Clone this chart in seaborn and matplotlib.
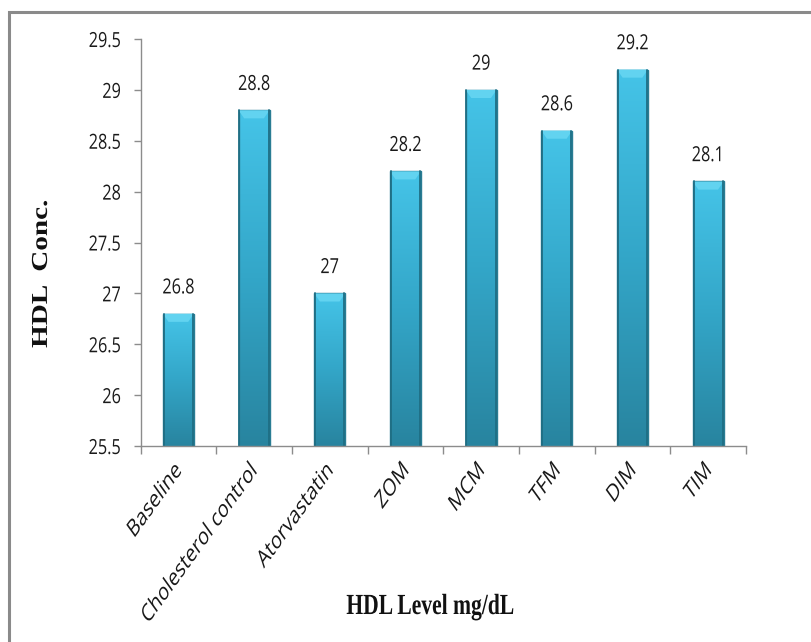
import numpy as np
import pandas as pd
import matplotlib
matplotlib.use("Agg")
import matplotlib.pyplot as plt
from matplotlib.colors import LinearSegmentedColormap
from matplotlib.patches import Rectangle
from matplotlib.patheffects import AbstractPathEffect
from matplotlib.transforms import Affine2D
import seaborn as sns

groups = ["Baseline", "Cholesterol control", "Atorvastatin", "ZOM",
          "MCM", "TFM", "DIM", "TIM"]
hdl = [26.8, 28.8, 27.0, 28.2, 29.0, 28.6, 29.2, 28.1]
value_text = ["26.8", "28.8", "27", "28.2", "29", "28.6", "29.2", "28.1"]
y_ticks = [25.5, 26, 26.5, 27, 27.5, 28, 28.5, 29, 29.5]


class HSqueeze(AbstractPathEffect):
    """Compress drawn glyphs horizontally (in screen space) about a point
    of their bounding box (frac=0 left edge, 0.5 centre, 1 right edge),
    then move them sideways by dx pixels."""

    def __init__(self, sx=0.78, frac=0.5, dx=0.0):
        super().__init__()
        self.sx = sx
        self.frac = frac
        self.dx = dx

    def draw_path(self, renderer, gc, tpath, affine, rgbFace=None):
        bb = tpath.get_extents(affine)
        cx = bb.x0 + self.frac * bb.width
        aff = affine + (Affine2D().translate(-cx, 0).scale(self.sx, 1)
                        .translate(cx + self.dx, 0))
        renderer.draw_path(gc, tpath, aff, rgbFace)


SX = 0.78
sns.set_theme(style="white")
plt.rcParams["font.family"] = ["Open Sans", "DejaVu Sans"]

df = pd.DataFrame({"group": groups, "hdl": hdl})

W, H = 811, 642
fig = plt.figure(figsize=(W / 100, H / 100), dpi=100)
ax = fig.add_axes([140.5 / W, 1 - 446 / H, (746 - 140.5) / W, (446 - 39) / H])

sns.barplot(data=df, x="group", y="hdl", color="#3BB5D8", width=0.41,
            ax=ax, saturation=1)

ax.set_ylim(25.5, 29.5)
ax.set_xlim(-0.5, len(groups) - 0.5)

# vertical gradient, dark side edges and a light bevel on each bar
cmap = LinearSegmentedColormap.from_list("bar", ["#28849F", "#33A6C8", "#45C4E8"])
grad = np.linspace(0, 1, 256).reshape(-1, 1)
for patch in ax.patches:
    x0, y0 = patch.get_x(), 25.5
    w = patch.get_width()
    y1 = patch.get_y() + patch.get_height()
    z = patch.get_zorder()
    patch.set_facecolor("none")
    patch.set_edgecolor("#2A7D94")
    patch.set_linewidth(1.0)
    im = ax.imshow(grad, extent=[x0, x0 + w, y0, y1], origin="lower",
                   cmap=cmap, aspect="auto", zorder=z - 0.1)
    im.set_clip_path(patch)
    bev = 0.08
    ax.fill([x0, x0 + w, x0 + w - 0.075, x0 + 0.075],
            [y1, y1, y1 - bev, y1 - bev], color="#62D3F0",
            zorder=z + 0.05, lw=0)
    for xe in (x0 + 0.012, x0 + w - 0.012):
        ax.plot([xe, xe], [y0, y1], color="#1F6E84", lw=1.3, zorder=z + 0.1)

label_color = "#1a1a1a"
for i, (v, t) in enumerate(zip(hdl, value_text)):
    ax.annotate(t, (i, v), xytext=(0, 11), textcoords="offset points",
                ha="center", va="bottom", fontsize=15, color=label_color,
                path_effects=[HSqueeze(SX, 0.5)])

ax.set_yticks(y_ticks)
ylabels = ax.set_yticklabels([f"{t:g}" for t in y_ticks], fontsize=15,
                             color=label_color)
for t in ylabels:
    t.set_path_effects([HSqueeze(SX, 1.0)])

ax.set_xticks(range(len(groups)))
xlabels = ax.set_xticklabels(groups, rotation=45, ha="right",
                             rotation_mode="anchor", fontsize=17.5,
                             color=label_color)
for t in xlabels:
    t.set_path_effects([HSqueeze(0.72, 1.0, dx=-8)])
ax.tick_params(axis="x", length=0, pad=9)
ax.tick_params(axis="y", length=5, width=1, color="#8c8c8c", left=True, pad=9)

# ticks at the category boundaries
ax.set_xticks(np.arange(-0.5, len(groups), 1.0), minor=True)
ax.tick_params(axis="x", which="minor", length=6, width=1, color="#8c8c8c",
               bottom=True)

for s in ["top", "right"]:
    ax.spines[s].set_visible(False)
for s in ["left", "bottom"]:
    ax.spines[s].set_color("#8c8c8c")
    ax.spines[s].set_linewidth(1.0)

xl = ax.set_xlabel("HDL Level mg/dL", fontsize=21, fontweight="bold",
                   family="Liberation Serif", color="#111111")
yl = ax.set_ylabel("HDL  Conc.", fontsize=21, fontweight="bold",
                   family="Liberation Serif", color="#111111")
xl.set_path_effects([HSqueeze(0.74, 0.5)])
yl.set_path_effects([HSqueeze(SX, 0.5)])
ax.xaxis.set_label_coords((430 - 140.5) / (746 - 140.5), -(593 - 446) / (446 - 39))
ax.yaxis.set_label_coords(-(140.5 - 55) / (746 - 140.5), (446 - 274) / (446 - 39))

# outer frame
fig.patches.append(Rectangle((9 / W, -0.1), 1.2, 1 - 12 / H + 0.1,
                             transform=fig.transFigure, fill=False,
                             edgecolor="#8a8a8a", lw=2.2))

fig.savefig("out.png", dpi=100)
